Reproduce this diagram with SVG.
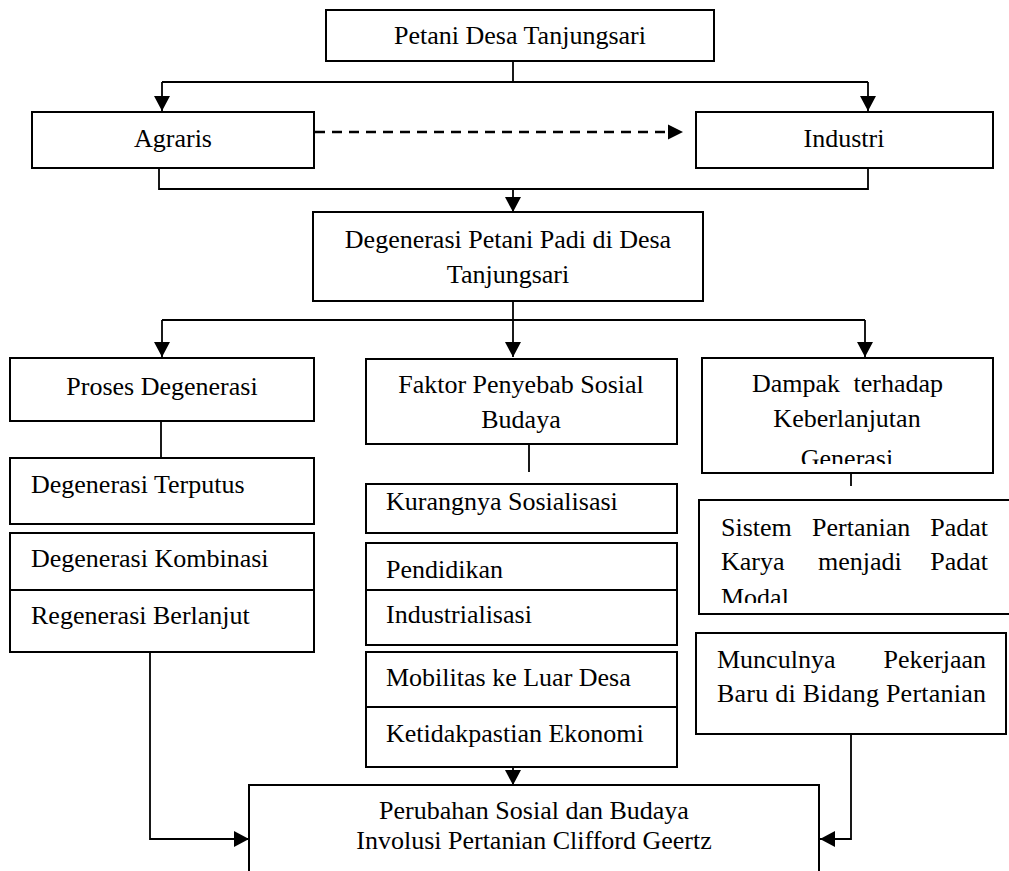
<svg xmlns="http://www.w3.org/2000/svg" width="1009" height="871" viewBox="0 0 1009 871">
<style>
.box{fill:#fff;stroke:#000;stroke-width:2}
.t{font-family:"Liberation Serif","Times New Roman",serif;font-size:26px;fill:#000}
.c{text-anchor:middle}
.ln{fill:none;stroke:#000;stroke-width:1.8}
.dash{fill:none;stroke:#000;stroke-width:2.6;stroke-dasharray:10 7}
</style>
<defs>
<marker id="ah" markerUnits="userSpaceOnUse" markerWidth="16" markerHeight="16" refX="15" refY="8" orient="auto">
<path d="M0,0 L15,8 L0,16 z" fill="#000"/>
</marker>
<clipPath id="clipDampak"><rect x="700" y="356" width="300" height="108"/></clipPath>
<clipPath id="clipSistem"><rect x="697" y="498" width="320" height="105"/></clipPath>
</defs>

<g id="connectors">
<path class="ln" d="M513,61 V82"/>
<path class="ln" d="M162,82 H868"/>
<path class="ln" d="M162,82 V111" marker-end="url(#ah)"/>
<path class="ln" d="M868,82 V111" marker-end="url(#ah)"/>
<path class="dash" d="M315,132 H670"/>
<path d="M668,124.5 L683,132 L668,139.5 z" fill="#000"/>
<path class="ln" d="M159,168 V189 H868 V168"/>
<path class="ln" d="M513,189 V212" marker-end="url(#ah)"/>
<path class="ln" d="M513,301 V320"/>
<path class="ln" d="M162,320 H865"/>
<path class="ln" d="M162,320 V357" marker-end="url(#ah)"/>
<path class="ln" d="M513,320 V357" marker-end="url(#ah)"/>
<path class="ln" d="M865,320 V357" marker-end="url(#ah)"/>
<path class="ln" d="M161,421 V458"/>
<path class="ln" d="M529,444 V472"/>
<path class="ln" d="M851,473 V486"/>
<path class="ln" d="M150,652 V839 H249" marker-end="url(#ah)"/>
<path class="ln" d="M513,767 V785" marker-end="url(#ah)"/>
<path class="ln" d="M851,734 V839 H820" marker-end="url(#ah)"/>
</g>

<g id="n-petani">
<rect class="box" x="326" y="10" width="388" height="51"/>
<text class="t c" x="520" y="44">Petani Desa Tanjungsari</text>
</g>
<g id="n-agraris">
<rect class="box" x="32" y="112" width="282" height="56"/>
<text class="t c" x="173" y="147">Agraris</text>
</g>
<g id="n-industri">
<rect class="box" x="696" y="112" width="297" height="56"/>
<text class="t c" x="844" y="147">Industri</text>
</g>
<g id="n-degenerasi">
<rect class="box" x="313" y="212" width="390" height="89"/>
<text class="t c" x="508" y="248">Degenerasi Petani Padi di Desa</text>
<text class="t c" x="508" y="283">Tanjungsari</text>
</g>

<g id="n-proses">
<rect class="box" x="10" y="358" width="304" height="63"/>
<text class="t c" x="162" y="395">Proses Degenerasi</text>
</g>
<g id="n-terputus">
<rect class="box" x="10" y="458" width="304" height="66"/>
<text class="t" x="31" y="493">Degenerasi Terputus</text>
</g>
<g id="n-kombinasi">
<rect class="box" x="10" y="533" width="304" height="57"/>
<text class="t" x="31" y="567">Degenerasi Kombinasi</text>
</g>
<g id="n-regenerasi">
<rect class="box" x="10" y="590" width="304" height="62"/>
<text class="t" x="31" y="624">Regenerasi Berlanjut</text>
</g>

<g id="n-faktor">
<rect class="box" x="366" y="359" width="311" height="85"/>
<text class="t c" x="521" y="393">Faktor Penyebab Sosial</text>
<text class="t c" x="521" y="428">Budaya</text>
</g>
<g id="n-kurangnya">
<rect class="box" x="366" y="484" width="311" height="49"/>
<text class="t" x="386" y="510">Kurangnya Sosialisasi</text>
</g>
<g id="n-pendidikan">
<rect class="box" x="366" y="543" width="311" height="47"/>
<text class="t" x="386" y="578">Pendidikan</text>
</g>
<g id="n-industrialisasi">
<rect class="box" x="366" y="590" width="311" height="55"/>
<text class="t" x="386" y="623">Industrialisasi</text>
</g>
<g id="n-mobilitas">
<rect class="box" x="366" y="652" width="311" height="55"/>
<text class="t" x="386" y="686">Mobilitas ke Luar Desa</text>
</g>
<g id="n-ketidakpastian">
<rect class="box" x="366" y="707" width="311" height="60"/>
<text class="t" x="386" y="742">Ketidakpastian Ekonomi</text>
</g>

<g id="n-dampak">
<rect class="box" x="702" y="358" width="291" height="115"/>
<text class="t" x="752" y="392">Dampak</text>
<text class="t" x="943" y="392" text-anchor="end">terhadap</text>
<text class="t c" x="847" y="427">Keberlanjutan</text>
<text class="t c" x="847" y="467" clip-path="url(#clipDampak)">Generasi</text>
</g>
<g id="n-sistem">
<rect class="box" x="699" y="500" width="320" height="114"/>
<text class="t" x="721" y="536">Sistem</text>
<text class="t" x="812" y="536">Pertanian</text>
<text class="t" x="988" y="536" text-anchor="end">Padat</text>
<text class="t" x="721" y="570">Karya</text>
<text class="t" x="818" y="570">menjadi</text>
<text class="t" x="988" y="570" text-anchor="end">Padat</text>
<text class="t" x="721" y="606" clip-path="url(#clipSistem)">Modal</text>
</g>
<g id="n-munculnya">
<rect class="box" x="696" y="633" width="310" height="101"/>
<text class="t" x="717" y="668">Munculnya</text>
<text class="t" x="986" y="668" text-anchor="end">Pekerjaan</text>
<text class="t" x="717" y="702" textLength="269" lengthAdjust="spacing">Baru di Bidang Pertanian</text>
</g>

<g id="n-perubahan">
<rect class="box" x="249" y="785" width="570" height="120"/>
<text class="t c" x="534" y="819">Perubahan Sosial dan Budaya</text>
<text class="t c" x="534" y="849">Involusi Pertanian Clifford Geertz</text>
</g>
</svg>
